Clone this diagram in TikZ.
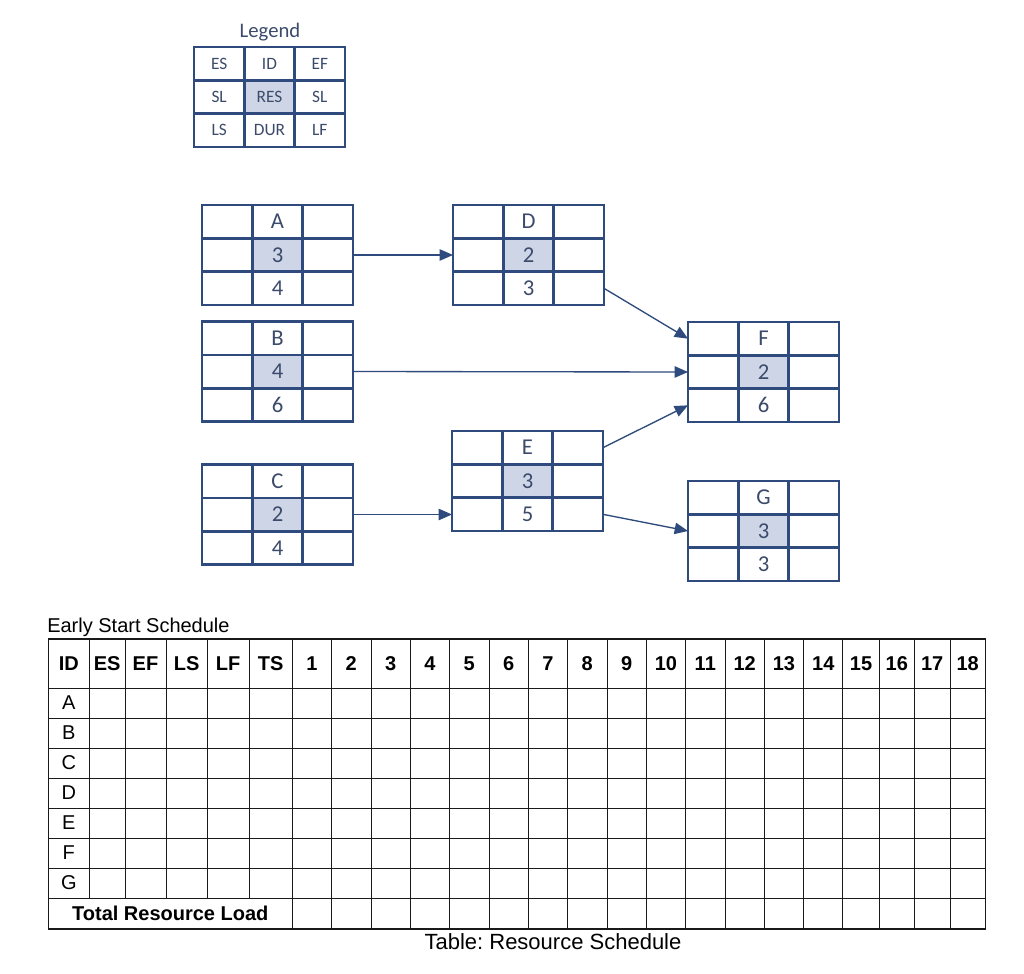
\documentclass[tikz,border=0pt]{standalone}
\usepackage{fontspec}
\setmainfont{Liberation Sans}
\newfontfamily\calfont{Carlito}
\usetikzlibrary{calc,arrows.meta}
\definecolor{pline}{HTML}{2F4A7C}
\definecolor{pfill}{HTML}{CDD5E6}
\definecolor{ptext}{HTML}{3C4B6B}
\definecolor{tgray}{HTML}{1A1A1A}
\tikzset{
 pbox/.style={draw=pline, line width=2pt, fill=white, minimum width=113.25pt, minimum height=75pt, inner sep=0pt, outer sep=0pt},
 pgrid/.style={draw=pline, line width=2pt},
 ptxt/.style={text=ptext, font=\calfont\fontsize{17}{20}\selectfont, inner sep=0pt},
 ltxt/.style={text=ptext, font=\calfont\fontsize{13}{16}\selectfont, inner sep=0pt},
 parrow/.style={draw=pline, line width=1pt, -{Triangle[length=10pt,width=8.5pt]}},
 tline/.style={draw=tgray, line width=0.75pt},
 thead/.style={font=\bfseries\fontsize{15}{18}\selectfont, inner sep=0pt},
 tcell/.style={font=\fontsize{15}{18}\selectfont, inner sep=0pt},
}
\newcommand\pertbox[3]{%
 \node[pbox] (#1) at (#2,#3) {};
 \fill[pfill] ($(#1.north west)!1/3!(#1.south east)$) rectangle ($(#1.north west)!2/3!(#1.south east)$);
 \draw[pgrid] ($(#1.north west)!1/3!(#1.north east)$) -- ($(#1.south west)!1/3!(#1.south east)$);
 \draw[pgrid] ($(#1.north west)!2/3!(#1.north east)$) -- ($(#1.south west)!2/3!(#1.south east)$);
 \draw[pgrid] ($(#1.north west)!1/3!(#1.south west)$) -- ($(#1.north east)!1/3!(#1.south east)$);
 \draw[pgrid] ($(#1.north west)!2/3!(#1.south west)$) -- ($(#1.north east)!2/3!(#1.south east)$);
 \coordinate (#1-c0) at ($(#1.north west)!1/6!(#1.north east)$);
 \coordinate (#1-c1) at ($(#1.north west)!3/6!(#1.north east)$);
 \coordinate (#1-c2) at ($(#1.north west)!5/6!(#1.north east)$);
 \coordinate (#1-r0) at ($(#1.north west)!1/6!(#1.south west)$);
 \coordinate (#1-r1) at ($(#1.north west)!3/6!(#1.south west)$);
 \coordinate (#1-r2) at ($(#1.north west)!5/6!(#1.south west)$);
}
\newcommand\pertlabels[4]{%
 \node[ptxt] (#1-id) at (#1-c1 |- #1-r0) {#2};
 \node[ptxt] (#1-res) at (#1-c1 |- #1-r1) {#3};
 \node[ptxt] (#1-dur) at (#1-c1 |- #1-r2) {#4};
}
\begin{document}
\frenchspacing
\begin{tikzpicture}[x=0.75pt,y=-0.75pt]
\useasboundingbox[fill=white] (0,0) rectangle (1024,974);
% Legend
\node[ptxt, font=\calfont\fontsize{15.5}{18}\selectfont] (legtitle) at (270,32) {Legend};
\pertbox{L}{269.5}{97}
\node[ltxt] (L-es) at (L-c0 |- L-r0) {ES};
\node[ltxt] (L-id) at (L-c1 |- L-r0) {ID};
\node[ltxt] (L-ef) at (L-c2 |- L-r0) {EF};
\node[ltxt] (L-sl1) at (L-c0 |- L-r1) {SL};
\node[ltxt] (L-res) at (L-c1 |- L-r1) {RES};
\node[ltxt] (L-sl2) at (L-c2 |- L-r1) {SL};
\node[ltxt] (L-ls) at (L-c0 |- L-r2) {LS};
\node[ltxt] (L-dur) at (L-c1 |- L-r2) {DUR};
\node[ltxt] (L-lf) at (L-c2 |- L-r2) {LF};
% Activity boxes
\pertbox{A}{277.5}{255}   \pertlabels{A}{A}{3}{4}
\pertbox{B}{277.5}{371.5} \pertlabels{B}{B}{4}{6}
\pertbox{C}{277.5}{514.5} \pertlabels{C}{C}{2}{4}
\pertbox{D}{528.5}{255}   \pertlabels{D}{D}{2}{3}
\pertbox{E}{527.5}{481}   \pertlabels{E}{E}{3}{5}
\pertbox{F}{763.5}{372}   \pertlabels{F}{F}{2}{6}
\pertbox{G}{763.5}{531}   \pertlabels{G}{G}{3}{3}
% Connectors
\draw[parrow] (A.east) -- (D.west);
\draw[parrow] (B.east) -- (F.west);
\draw[parrow] (C.east) -- (C.east -| E.west);
\draw[parrow] ($(D.north east)!5/6!(D.south east)$) -- ($(F.north west)!1/6!(F.south west)$);
\draw[parrow] ($(E.north east)!1/6!(E.south east)$) -- ($(F.north west)!5/6!(F.south west)$);
\draw[parrow] ($(E.north east)!5/6!(E.south east)$) -- (G.west);
% Table
\node[anchor=west, inner sep=0pt, font=\fontsize{15}{18}\selectfont] (esstitle) at (47,627) {Early Start Schedule};
\foreach \y in {688,718,748,778,808,838,868,898}
  \draw[tline] (48.3,\y) -- (985.3,\y);
\foreach \x in {89.3,125,166,207.3,249}
  \draw[tline] (\x,639) -- (\x,898);
\foreach \x in {292.3,331.6,371,410.3,449.6,489,528.3,567.6,607,646.3,685.6,725,764.3,803.6,842.9,879.3,914.3,950}
  \draw[tline] (\x,639) -- (\x,929);
\draw[tline, line width=1pt] (48.3,639) rectangle (985.3,929);
\foreach \a/\b/\t [count=\i] in {48.3/89.3/ID,89.3/125/ES,125/166/EF,166/207.3/LS,207.3/249/LF,249/292.3/TS,292.3/331.6/1,331.6/371/2,371/410.3/3,410.3/449.6/4,449.6/489/5,489/528.3/6,528.3/567.6/7,567.6/607/8,607/646.3/9,646.3/685.6/10,685.6/725/11,725/764.3/12,764.3/803.6/13,803.6/842.9/14,842.9/879.3/15,879.3/914.3/16,914.3/950/17,950/985.3/18}
  \node[thead] (h\i) at ({(\a+\b)/2},663.5) {\t};
\foreach \t [count=\i] in {A,B,C,D,E,F,G}
  \node[tcell] (row\i) at (68.8,{673+30*\i}) {\t};
\node[thead] (total) at (170.3,913.5) {Total Resource Load};
\node[inner sep=0pt, font=\fontsize{16.5}{20}\selectfont] (caption) at (553,942) {Table: Resource Schedule};
\end{tikzpicture}
\end{document}
